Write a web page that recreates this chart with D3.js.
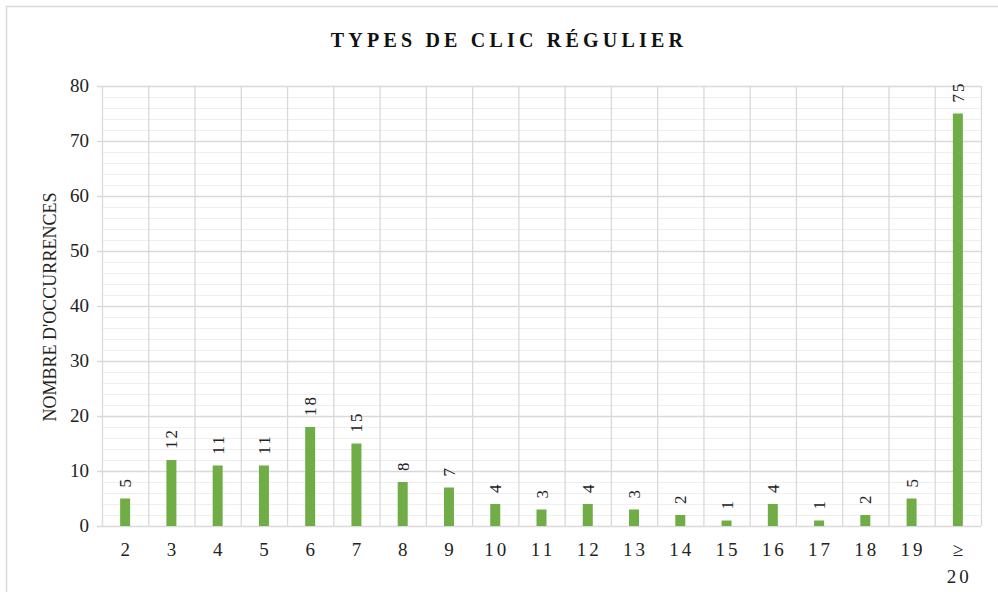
<!DOCTYPE html>
<html><head><meta charset="utf-8">
<script src="https://cdn.jsdelivr.net/npm/d3@7"></script>
<style>body{margin:0;background:#fff;} svg{display:block;}</style>
</head><body>
<svg id="c" width="998" height="592"></svg>
<script>
const categories = ["2","3","4","5","6","7","8","9","10","11","12","13","14","15","16","17","18","19","≥\n20"];
const values = [5,12,11,11,18,15,8,7,4,3,4,3,2,1,4,1,2,5,75];
const yTicks = [0,10,20,30,40,50,60,70,80];
const title = "TYPES DE CLIC RÉGULIER";
const yTitle = "NOMBRE D'OCCURRENCES";

const svg = d3.select("#c");
const font = "Liberation Serif, Times New Roman, serif";
// outer frame
svg.append("path").attr("d","M6.5,592 V6.5 H998").attr("fill","none").attr("stroke","#d9d9d9").attr("stroke-width",1.5);

const x = d3.scaleBand().domain(categories).range([102,981]).paddingInner(0).paddingOuter(0);
const y = d3.scaleLinear().domain([0,80]).range([526,86]);

const g = svg.append("g");
// minor grid
g.selectAll(".minor").data(d3.range(2,80,2).filter(v=>v%10!==0)).join("line")
  .attr("x1",102).attr("x2",981).attr("y1",d=>y(d)+0.5).attr("y2",d=>y(d)+0.5)
  .attr("stroke","#efefef").attr("stroke-width",1);
// major grid
g.selectAll(".major").data(yTicks.filter(v=>v>0)).join("line")
  .attr("x1",97).attr("x2",981).attr("y1",d=>y(d)+0.5).attr("y2",d=>y(d)+0.5)
  .attr("stroke","#d9d9d9").attr("stroke-width",1.3);
// vertical grid
g.selectAll(".vg").data(categories.concat(["end"])).join("line")
  .attr("x1",(d,i)=> (i<categories.length? x(d) : x.range()[1]) + 0.5)
  .attr("x2",(d,i)=> (i<categories.length? x(d) : x.range()[1]) + 0.5)
  .attr("y1",86).attr("y2",526).attr("stroke","#d9d9d9").attr("stroke-width",1.3);
// baseline
g.append("line").attr("x1",97).attr("x2",981).attr("y1",526.5).attr("y2",526.5).attr("stroke","#d9d9d9").attr("stroke-width",1.5);

// bars
const bw = 10;
g.selectAll(".bar").data(values).join("rect")
  .attr("x",(d,i)=>x(categories[i])+x.bandwidth()/2-bw/2)
  .attr("y",d=>y(d)).attr("width",bw).attr("height",d=>y(0)-y(d))
  .attr("fill","#70ad47");

// data labels (rotated)
g.selectAll(".lab").data(values).join("text")
  .attr("transform",(d,i)=>`translate(${x(categories[i])+x.bandwidth()/2+6},${y(d)-11}) rotate(-90)`)
  .attr("text-anchor","start").attr("font-family",font).attr("font-size",17).attr("fill","#222")
  .attr("letter-spacing",2)
  .text(d=>d);

// y tick labels
g.selectAll(".yt").data(yTicks).join("text")
  .attr("x",89).attr("y",d=>y(d)+6).attr("text-anchor","end")
  .attr("font-family",font).attr("font-size",19).attr("fill","#222").text(d=>d);

// x tick labels
categories.forEach((c,i)=>{
  const lines = c.split("\n");
  const t = g.append("text").attr("text-anchor","middle").attr("font-family",font)
    .attr("font-size",19).attr("fill","#222").attr("letter-spacing",3);
  lines.forEach((l,j)=>{
    t.append("tspan").attr("x",x(c)+x.bandwidth()/2+1.5).attr("y",556+j*27).text(l);
  });
});

// title
svg.append("text").attr("x",509).attr("y",47).attr("text-anchor","middle")
  .attr("font-family",font).attr("font-size",20).attr("font-weight","bold")
  .attr("letter-spacing",4.2).attr("fill","#111").text(title);

// y title
svg.append("text").attr("transform","translate(56,307) rotate(-90)").attr("text-anchor","middle")
  .attr("font-family",font).attr("font-size",18).attr("fill","#222").text(yTitle);
</script>
</body></html>
